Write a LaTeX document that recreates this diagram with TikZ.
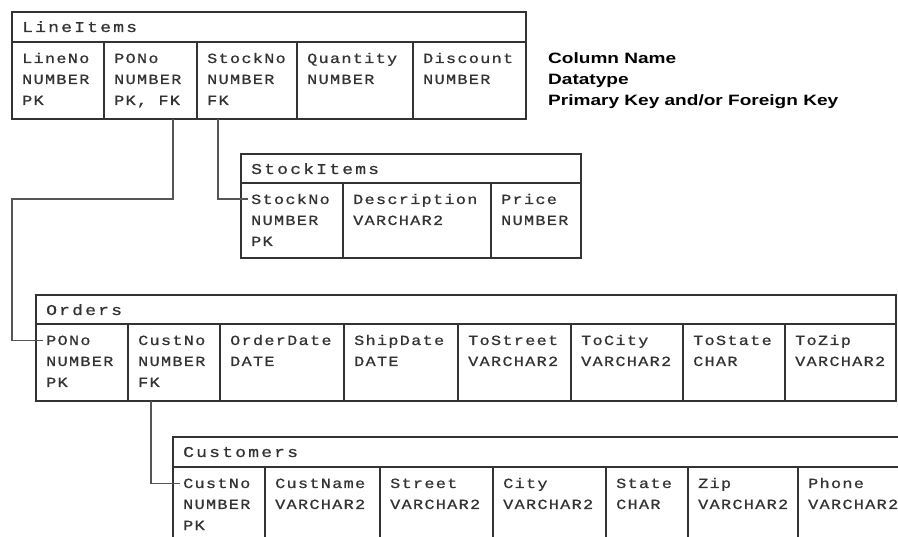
\documentclass[tikz,border=0pt]{standalone}
\usepackage{fontspec}
\newfontfamily\dbmono[FakeStretch=1.2,LetterSpace=9.5,FakeBold=0.8]{Liberation Mono}
\newfontfamily\dbhead[FakeStretch=1.2,LetterSpace=14.7,FakeBold=0.8]{Liberation Mono}
\newfontfamily\legendfont[FakeStretch=1.27]{Liberation Sans}
\definecolor{boxcol}{HTML}{333333}
\definecolor{textcol}{HTML}{333333}
\definecolor{conncol}{HTML}{555555}
\newcommand{\dbcell}[5]{\node[cell, minimum width={(#4-#2)*1pt}, minimum height={(#5-#3)*1pt}] (#1) at (#2,#3) {};}
\newcommand{\dbtable}[6]{%
  \dbcell{#1}{#2}{#3}{#4}{#5}
  \node[ttl] (#1-t) at (#2+10,#3+20) {#6};}
\newcommand{\dbcol}[8]{%
  \dbcell{#1}{#2}{#4}{#3}{#5}
  \node[txt] (#1-n) at (#2+10,#4+21) {#6};
  \node[txt] (#1-d) at (#2+10,#4+42) {#7};
  \if\relax\detokenize{#8}\relax\else\node[txt] (#1-k) at (#2+10,#4+63) {#8};\fi}
\begin{document}
\begin{tikzpicture}[x=1pt,y=-1pt,
  cell/.style={draw=boxcol, line width=1.6pt, rectangle, inner sep=0pt, outer sep=0pt, anchor=north west},
  txt/.style={anchor=base west, inner sep=0pt, text=textcol, font=\dbmono\fontsize{14pt}{16pt}\selectfont},
  ttl/.style={anchor=base west, inner sep=0pt, text=textcol, font=\dbhead\fontsize{15pt}{17pt}\selectfont},
  lgd/.style={anchor=base west, inner sep=0pt, text=black, font=\legendfont\bfseries\fontsize{15pt}{17pt}\selectfont},
  conn/.style={draw=conncol, line width=1.1pt}]
\useasboundingbox (0,0) rectangle (898,537);
\fill[white] (0,0) rectangle (898,537);
\clip (0,0) rectangle (898,537);

% LineItems
\dbtable{li}{12}{12}{526}{42}{LineItems}
\dbcol{li-c1}{12}{104}{42}{119}{LineNo}{NUMBER}{PK}
\dbcol{li-c2}{104}{197}{42}{119}{PONo}{NUMBER}{PK, FK}
\dbcol{li-c3}{197}{297}{42}{119}{StockNo}{NUMBER}{FK}
\dbcol{li-c4}{297}{413}{42}{119}{Quantity}{NUMBER}{}
\dbcol{li-c5}{413}{526}{42}{119}{Discount}{NUMBER}{}

% Legend
\node[lgd] (lg1) at (548,64) {Column Name};
\node[lgd] (lg2) at (548,85) {Datatype};
\node[lgd] (lg3) at (548,106) {Primary Key and/or Foreign Key};

% StockItems
\dbtable{si}{241}{154}{581}{183}{StockItems}
\dbcol{si-c1}{241}{343}{183}{258}{StockNo}{NUMBER}{PK}
\dbcol{si-c2}{343}{491}{183}{258}{Description}{VARCHAR2}{}
\dbcol{si-c3}{491}{581}{183}{258}{Price}{NUMBER}{}

% Orders
\dbtable{or}{36}{295}{896}{324}{Orders}
\dbcol{or-c1}{36}{128}{324}{401}{PONo}{NUMBER}{PK}
\dbcol{or-c2}{128}{220}{324}{401}{CustNo}{NUMBER}{FK}
\dbcol{or-c3}{220}{344}{324}{401}{OrderDate}{DATE}{}
\dbcol{or-c4}{344}{458}{324}{401}{ShipDate}{DATE}{}
\dbcol{or-c5}{458}{571}{324}{401}{ToStreet}{VARCHAR2}{}
\dbcol{or-c6}{571}{683}{324}{401}{ToCity}{VARCHAR2}{}
\dbcol{or-c7}{683}{785}{324}{401}{ToState}{CHAR}{}
\dbcol{or-c8}{785}{896}{324}{401}{ToZip}{VARCHAR2}{}

% Customers
\dbtable{cu}{173}{437}{915}{467}{Customers}
\dbcol{cu-c1}{173}{265}{467}{560}{CustNo}{NUMBER}{PK}
\dbcol{cu-c2}{265}{380}{467}{560}{CustName}{VARCHAR2}{}
\dbcol{cu-c3}{380}{493}{467}{560}{Street}{VARCHAR2}{}
\dbcol{cu-c4}{493}{606}{467}{560}{City}{VARCHAR2}{}
\dbcol{cu-c5}{606}{688}{467}{560}{State}{CHAR}{}
\dbcol{cu-c6}{688}{798}{467}{560}{Zip}{VARCHAR2}{}
\dbcol{cu-c7}{798}{915}{467}{560}{Phone}{VARCHAR2}{}

% Connectors
\draw[conn] ([xshift=22.5pt]li-c2.south) -- ++(0,80) -- ++(-161,0) |- ([xshift=-3pt]or-c1-n.west);
\draw[conn] ([xshift=-29pt]li-c3.south) |- ([xshift=-3pt]si-c1-n.west);
\draw[conn] ([xshift=-23pt]or-c2.south) |- ([xshift=-3pt]cu-c1-n.west);
\end{tikzpicture}
\end{document}
